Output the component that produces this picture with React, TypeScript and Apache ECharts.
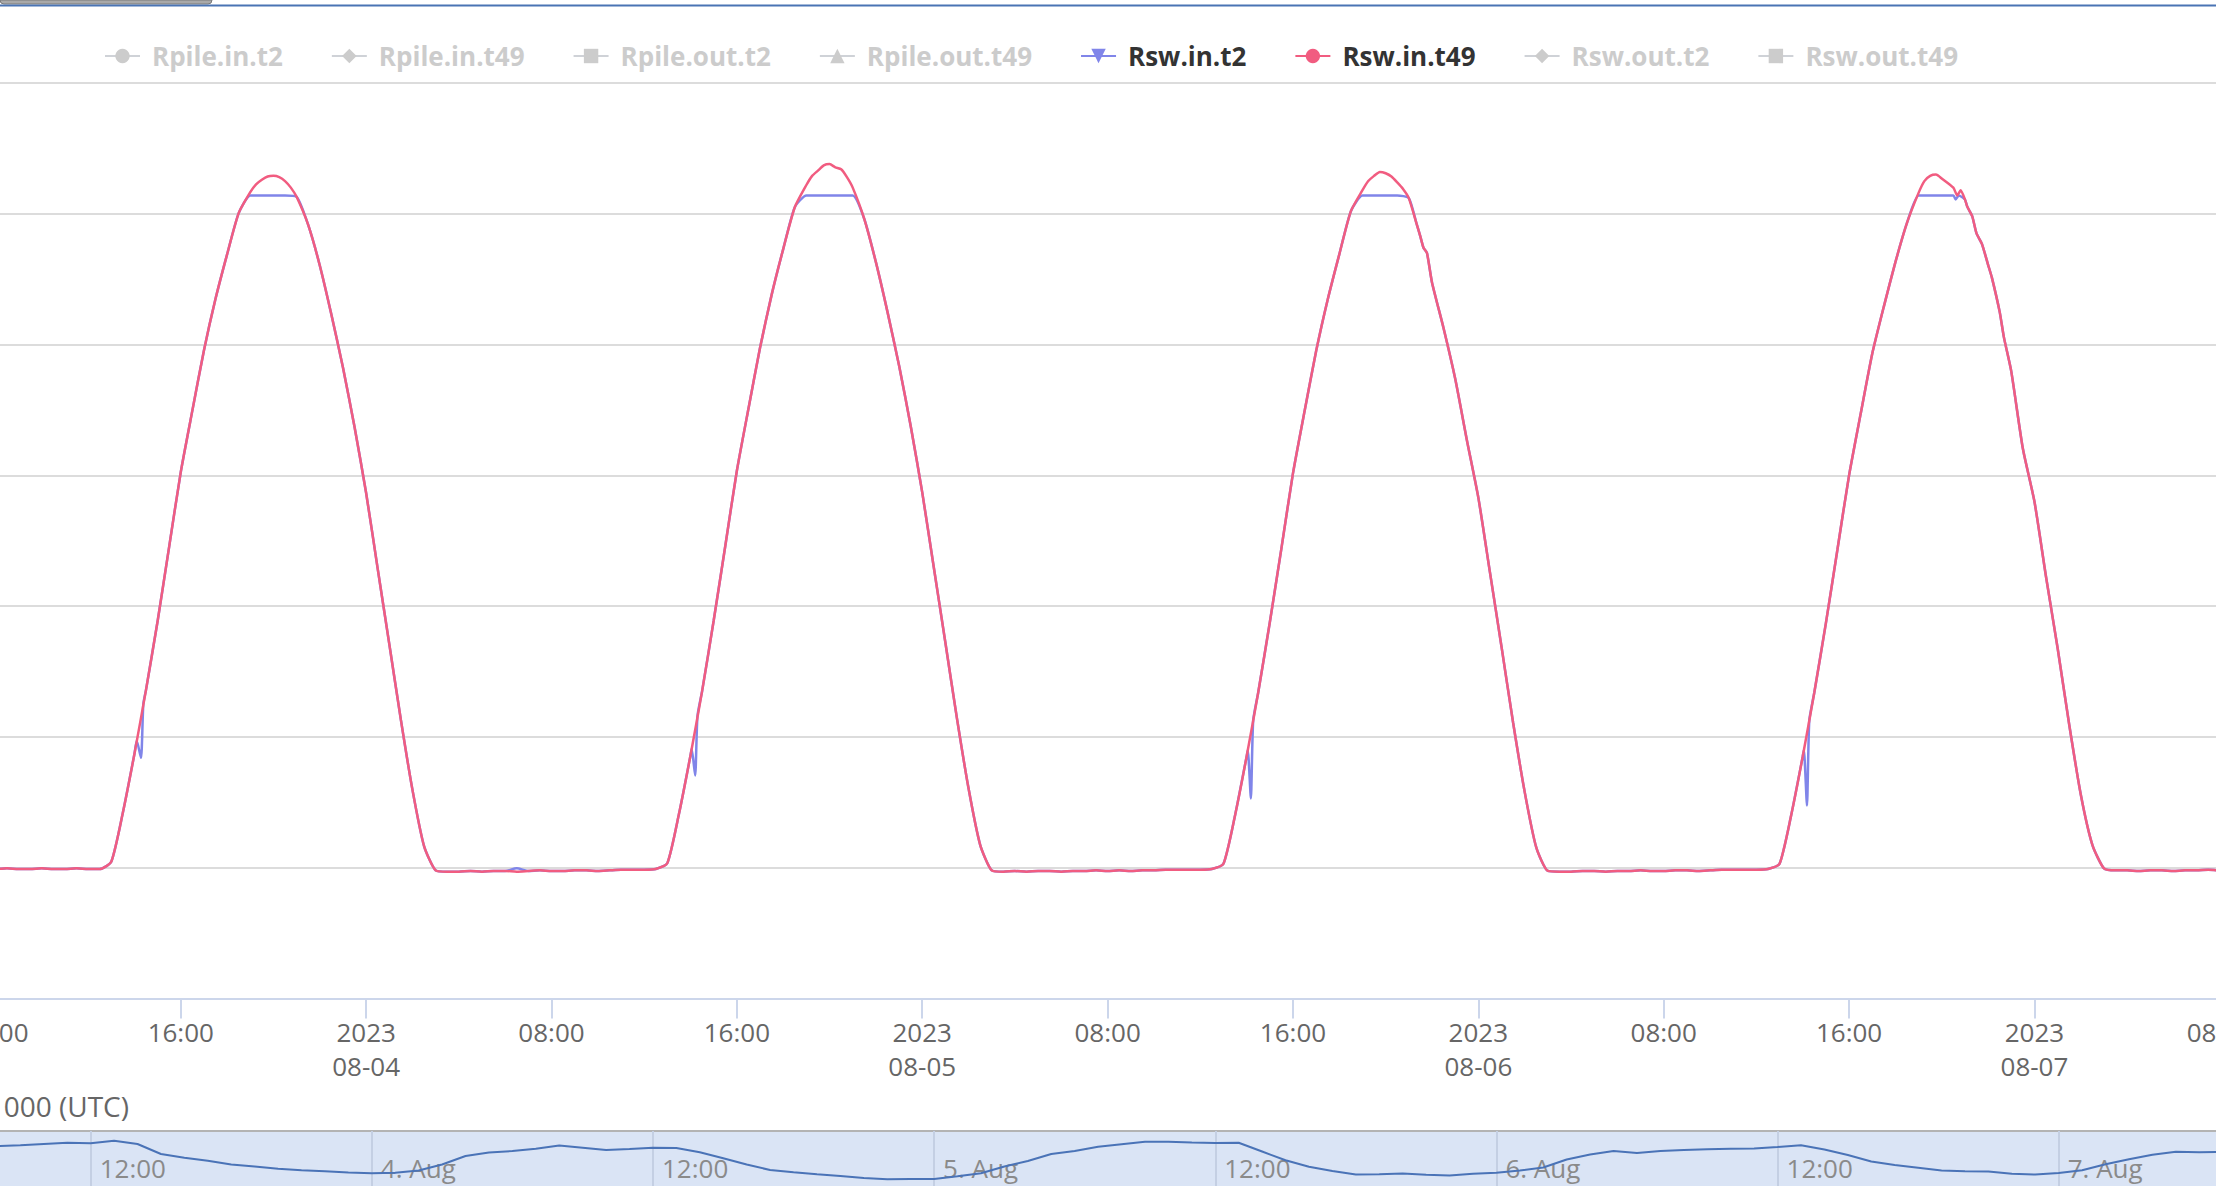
import React, { useEffect, useRef } from 'react';
import * as echarts from 'echarts';

const W = 2216;
const H = 1186;
const OFFX = 220; // chart canvas extends beyond the visible frame on both sides
const CW = W + OFFX + 440;
const FONT = "'Open Sans', 'Noto Sans', sans-serif";

// Legend / series definitions (Highcharts-like palette and symbols)
const legendNames = ['Rpile.in.t2', 'Rpile.in.t49', 'Rpile.out.t2', 'Rpile.out.t49', 'Rsw.in.t2', 'Rsw.in.t49', 'Rsw.out.t2', 'Rsw.out.t49'];
const legendSymbols = ['circle', 'diamond', 'rect', 'triangle', 'path://M0,0L10,0L5,10Z', 'circle', 'diamond', 'rect'];
const seriesColors = ['#7cb5ec', '#434348', '#90ed7d', '#f7a35c', '#8085e9', '#f15c80', '#e4d354', '#2b908f'];
const visibleSeries = ['Rsw.in.t2', 'Rsw.in.t49'];

// Axis ranges
const mainAxisStart = '2023-08-03T08:00:00Z';
const mainAxisEnd = '2023-08-07T08:00:00Z';
const navAxisStart = '2023-08-03T00:00:00Z';
const navAxisEnd = '2023-08-07T12:00:00Z';
const mainTickHours = 8;
const navTickHours = 12;
const yMin = -200;
const yMax = 1200;
const yStep = 200;
const monthShort = ['Jan', 'Feb', 'Mar', 'Apr', 'May', 'Jun', 'Jul', 'Aug', 'Sep', 'Oct', 'Nov', 'Dec'];
const axisNameText = '000 (UTC)';

// Main series: 30-minute readings starting 2023-08-03 06:00 UTC
const seriesStart = '2023-08-03T06:00:00Z';
const stepMinutes = 30;

const rswInT49 = [
  // 08-03 06:00 .. 11:30
  -2, -2, -1, -2, -2, -1, -2, -2, -1, -2, -2, -1,
  // 08-03 12:00 .. 08-04 03:00
  -2, -2, 9, 84, 174, 272, 377, 491, 605, 699, 791, 870, 938, 1001, 1033, 1052, 1058, 1050, 1026, 983, 921, 846, 765, 674, 573, 457, 342, 226, 119, 33, -4,
  // 08-04 03:30 .. 11:30
  -6, -6, -5, -6, -5, -5, -6, -5, -4, -5, -5, -4, -4, -5, -4, -3, -3,
  // 08-04 12:00 .. 08-05 03:00
  -3, -2, 7, 82, 172, 270, 378, 492, 607, 702, 795, 876, 946, 1010, 1044, 1066, 1076, 1068, 1040, 992, 926, 850, 768, 676, 574, 459, 344, 228, 121, 35, -4,
  // 08-05 03:30 .. 11:30
  -6, -5, -6, -5, -5, -6, -5, -5, -4, -5, -4, -5, -4, -4, -3, -3, -3,
  // 08-05 12:00 .. 08-06 03:00
  -3, -2, 6, 80, 170, 268, 375, 488, 603, 698, 790, 869, 938, 1004, 1036, 1058, 1062, 1048, 1024, 965, 895, 825, 748, 655, 566, 452, 338, 222, 116, 31, -5,
  // 08-06 03:30 .. 11:30
  -6, -6, -5, -5, -6, -5, -5, -4, -5, -5, -4, -4, -5, -4, -3, -3, -3,
  // 08-06 12:00 .. 08-07 03:00
  -3, -2, 6, 80, 170, 268, 374, 487, 600, 694, 786, 858, 926, 986, 1032, 1058, 1054, 1040, 1022, 970, 922, 850, 759, 641, 560, 445, 336, 219, 112, 35, -1,
  // 08-07 03:30 .. 10:00
  -4, -4, -5, -4, -4, -5, -4, -4, -3, -4, -4, -3, -4, -4,
];

const rswInT2 = [
  -2, -2, -1, -2, -2, -1, -2, -2, -1, -2, -2, -1,
  -2, -2, 9, 84, 174, 272, 377, 491, 605, 699, 791, 870, 938, 1001, 1028, 1028, 1028, 1028, 1026, 983, 921, 846, 765, 674, 573, 457, 342, 226, 119, 33, -4,
  -6, -6, -5, -6, -5, -5, -1, -5, -4, -5, -5, -4, -4, -5, -4, -3, -3,
  -3, -2, 7, 82, 172, 270, 378, 492, 607, 702, 795, 876, 946, 1010, 1028, 1028, 1028, 1028, 1028, 992, 926, 850, 768, 676, 574, 459, 344, 228, 121, 35, -4,
  -6, -5, -6, -5, -5, -6, -5, -5, -4, -5, -4, -5, -4, -4, -3, -3, -3,
  -3, -2, 6, 80, 170, 268, 375, 488, 603, 698, 790, 869, 938, 1004, 1028, 1028, 1028, 1028, 1024, 965, 895, 825, 748, 655, 566, 452, 338, 222, 116, 31, -5,
  -6, -6, -5, -5, -6, -5, -5, -4, -5, -5, -4, -4, -5, -4, -3, -3, -3,
  -3, -2, 6, 80, 170, 268, 374, 487, 600, 694, 786, 858, 926, 986, 1028, 1028, 1028, 1028, 1022, 970, 922, 850, 759, 641, 560, 445, 336, 219, 112, 35, -1,
  -4, -4, -5, -4, -4, -5, -4, -4, -3, -4, -4, -3, -4, -4,
];

// Extra off-grid readings (sensor dips, peak noise and noisy stretches)
const rswInT2Extra: [string, number][] = [
  ['2023-08-03T14:06:00Z', 194], ['2023-08-03T14:17:00Z', 168], ['2023-08-03T14:23:00Z', 250],
  ['2023-08-04T14:03:00Z', 182], ['2023-08-04T14:12:00Z', 141], ['2023-08-04T14:18:00Z', 232],
  ['2023-08-05T14:03:00Z', 180], ['2023-08-05T14:11:00Z', 106], ['2023-08-05T14:17:00Z', 225],
  ['2023-08-05T21:20:00Z', 985], ['2023-08-05T21:38:00Z', 948], ['2023-08-05T21:47:00Z', 940],
  ['2023-08-06T14:03:00Z', 180], ['2023-08-06T14:11:00Z', 95], ['2023-08-06T14:17:00Z', 225],
  ['2023-08-06T20:36:00Z', 1022], ['2023-08-06T20:44:00Z', 1028],
  ['2023-08-06T21:06:00Z', 1011], ['2023-08-06T21:19:00Z', 996], ['2023-08-06T21:44:00Z', 954],
  ['2023-08-06T22:10:00Z', 902], ['2023-08-06T22:41:00Z', 811],
];

const rswInT49Extra: [string, number][] = [
  ['2023-08-03T19:15:00Z', 1045], ['2023-08-03T19:45:00Z', 1057], ['2023-08-03T20:15:00Z', 1056], ['2023-08-03T20:45:00Z', 1040],
  ['2023-08-04T19:15:00Z', 1058], ['2023-08-04T19:45:00Z', 1074], ['2023-08-04T20:15:00Z', 1071], ['2023-08-04T20:45:00Z', 1056],
  ['2023-08-05T19:15:00Z', 1050], ['2023-08-05T19:45:00Z', 1064], ['2023-08-05T20:15:00Z', 1057], ['2023-08-05T20:45:00Z', 1038],
  ['2023-08-05T21:20:00Z', 985], ['2023-08-05T21:38:00Z', 948], ['2023-08-05T21:47:00Z', 940],
  ['2023-08-06T19:15:00Z', 1050], ['2023-08-06T19:45:00Z', 1060],
  ['2023-08-06T20:40:00Z', 1028], ['2023-08-06T20:49:00Z', 1036], ['2023-08-06T21:06:00Z', 1011],
  ['2023-08-06T21:19:00Z', 996], ['2023-08-06T21:44:00Z', 954], ['2023-08-06T22:10:00Z', 902],
  ['2023-08-06T22:41:00Z', 811],
];

// Navigator series: hourly readings starting 2023-08-03 08:00 UTC
const navStart = '2023-08-03T08:00:00Z';
const navStepMinutes = 60;
const navValues = [
  28.0, 28.3, 28.8, 29.3, 29.1, 30.1, 28.8, 24.8, 23.3, 22.1, 20.6, 19.8, 18.9, 18.3, 17.9, 17.4,
  17.1, 17.3, 18.2, 20.6, 24.0, 25.4, 26.0, 26.9, 28.2, 27.3, 26.4, 26.8, 27.3, 27.2, 25.5, 23.1, 20.6, 18.4, 17.5, 16.7, 16.0, 15.2, 14.7, 14.8,
  14.8, 15.9, 17.1, 19.8, 22.0, 24.8, 26.0, 27.7, 28.7, 29.7, 29.7, 29.4, 29.2, 29.3, 25.8, 22.3, 19.7, 18.0, 16.6, 16.7, 17.0, 16.5, 16.2, 16.9,
  17.3, 18.2, 19.4, 22.6, 24.6, 26.0, 25.2, 26.0, 26.4, 26.7, 26.9, 27.0, 27.6, 28.3, 26.6, 24.4, 21.8, 20.4, 19.3, 18.2, 17.9, 17.8, 16.9, 16.6,
  17.2, 18.3, 20.7, 22.7, 24.5, 25.7, 25.5, 25.6,
];
const navMin = 10;
const navMax = 34;

const pad2 = (n: number) => (n < 10 ? '0' + n : '' + n);

function buildSeries(start: string, stepMin: number, values: number[], extra: [string, number][]) {
  const t0 = Date.parse(start);
  const pts: [number, number][] = values.map((v, i) => [t0 + i * stepMin * 60000, v]);
  extra.forEach(([t, v]) => pts.push([Date.parse(t), v]));
  pts.sort((a, b) => a[0] - b[0]);
  return pts;
}

export default function App() {
  const ref = useRef<HTMLDivElement>(null);

  useEffect(() => {
    document.body.style.margin = '0';
    if (!ref.current) return;
    const chart = echarts.init(ref.current, undefined, { renderer: 'svg', width: CW, height: H });

    const t2Data = buildSeries(seriesStart, stepMinutes, rswInT2, rswInT2Extra);
    const t49Data = buildSeries(seriesStart, stepMinutes, rswInT49, rswInT49Extra);
    const navData = buildSeries(navStart, navStepMinutes, navValues, []);

    const selected: Record<string, boolean> = {};
    legendNames.forEach((n) => (selected[n] = visibleSeries.indexOf(n) >= 0));

    const lineSeries = legendNames.map((name, i) => ({
      name,
      type: 'line',
      xAxisIndex: 0,
      yAxisIndex: 0,
      symbol: legendSymbols[i],
      symbolSize: 8,
      showSymbol: false,
      smooth: 0.2,
      color: seriesColors[i],
      lineStyle: { width: 2.5, color: seriesColors[i] },
      data: name === 'Rsw.in.t2' ? t2Data : name === 'Rsw.in.t49' ? t49Data : [],
    }));

    const dayPx = 556.1; // main axis scale: pixels per day
    const navDayPx = 562.3; // navigator scale: pixels per day

    const option: any = {
      animation: false,
      backgroundColor: '#ffffff',
      textStyle: { fontFamily: FONT },
      legend: {
        data: legendNames,
        selected,
        left: OFFX + 99,
        top: 38,
        itemWidth: 35,
        itemHeight: 18,
        itemGap: 48,
        inactiveColor: '#cccccc',
        textStyle: { fontSize: 26, fontWeight: 'bold', color: '#333333', fontFamily: FONT, padding: [0, 0, 0, 7] },
      },
      grid: [
        { left: OFFX - 4.6, top: 83, width: 4 * dayPx, height: 915.5, outerBoundsMode: 'none', containLabel: false },
        {
          left: OFFX - 190.5, top: 1131, width: 4.5 * navDayPx, height: 60,
          show: true, backgroundColor: '#dae4f5', borderColor: '#b3b3b3', borderWidth: 2,
          outerBoundsMode: 'none', containLabel: false,
        },
      ],
      xAxis: [
        {
          gridIndex: 0,
          type: 'value',
          min: Date.parse(mainAxisStart),
          max: Date.parse(mainAxisEnd),
          interval: mainTickHours * 3600000,
          axisLine: { show: true, onZero: false, lineStyle: { color: '#ccd6eb', width: 2 } },
          axisTick: { show: true, length: 20, lineStyle: { color: '#ccd6eb', width: 2 } },
          splitLine: { show: false },
          axisLabel: {
            margin: 16,
            color: '#666666',
            fontSize: 26,
            lineHeight: 34,
            fontFamily: FONT,
            formatter: (v: number) => {
              const d = new Date(v);
              const h = d.getUTCHours();
              if (h === 0) return d.getUTCFullYear() + '\n' + pad2(d.getUTCMonth() + 1) + '-' + pad2(d.getUTCDate());
              return pad2(h) + ':00';
            },
          },
        },
        {
          gridIndex: 1,
          type: 'value',
          min: Date.parse(navAxisStart),
          max: Date.parse(navAxisEnd),
          interval: navTickHours * 3600000,
          axisLine: { show: false },
          axisTick: { show: false },
          splitLine: { show: true, lineStyle: { color: '#c4cfe3', width: 2 } },
          axisLabel: {
            inside: true,
            align: 'left',
            margin: 10,
            padding: [0, 0, 0, 9],
            color: '#8a8a8a',
            fontSize: 26,
            fontFamily: FONT,
            showMinLabel: false,
            showMaxLabel: false,
            formatter: (v: number) => {
              const d = new Date(v);
              const h = d.getUTCHours();
              if (h === 12) return '12:00';
              return d.getUTCDate() + '. ' + monthShort[d.getUTCMonth()];
            },
          },
        },
      ],
      yAxis: [
        {
          gridIndex: 0,
          type: 'value',
          min: yMin,
          max: yMax,
          interval: yStep,
          axisLine: { show: false },
          axisTick: { show: false },
          axisLabel: { show: false },
          splitLine: { show: true, lineStyle: { color: '#dcdcdc', width: 2 } },
        },
        { gridIndex: 1, type: 'value', min: navMin, max: navMax, show: false, splitLine: { show: false } },
      ],
      series: [
        ...lineSeries,
        {
          name: 'navigator',
          type: 'line',
          xAxisIndex: 1,
          yAxisIndex: 1,
          showSymbol: false,
          silent: true,
          color: '#4a73b7',
          lineStyle: { color: '#4a73b7', width: 2 },
          data: navData,
        },
      ],
      graphic: [
        {
          type: 'rect',
          shape: { x: OFFX, y: 0, width: 212, height: 4, r: [0, 0, 6, 6] },
          style: { fill: '#a9a9a9', stroke: '#7a7a7a', lineWidth: 1 },
        },
        {
          type: 'line',
          shape: { x1: OFFX, y1: 5.5, x2: OFFX + W, y2: 5.5 },
          style: { stroke: '#4a74b4', lineWidth: 2 },
        },
        {
          type: 'text',
          x: OFFX + 129,
          y: 1106,
          style: { text: axisNameText, align: 'right', verticalAlign: 'middle', fontSize: 28, fill: '#666666', fontFamily: FONT },
        },
      ],
    };

    chart.setOption(option);
    return () => chart.dispose();
  }, []);

  return (
    <div style={{ position: 'fixed', left: 0, top: 0, width: W, height: H, overflow: 'hidden', background: '#fff' }}>
      <div ref={ref} style={{ position: 'absolute', left: -OFFX, top: 0, width: CW, height: H }} />
    </div>
  );
}
